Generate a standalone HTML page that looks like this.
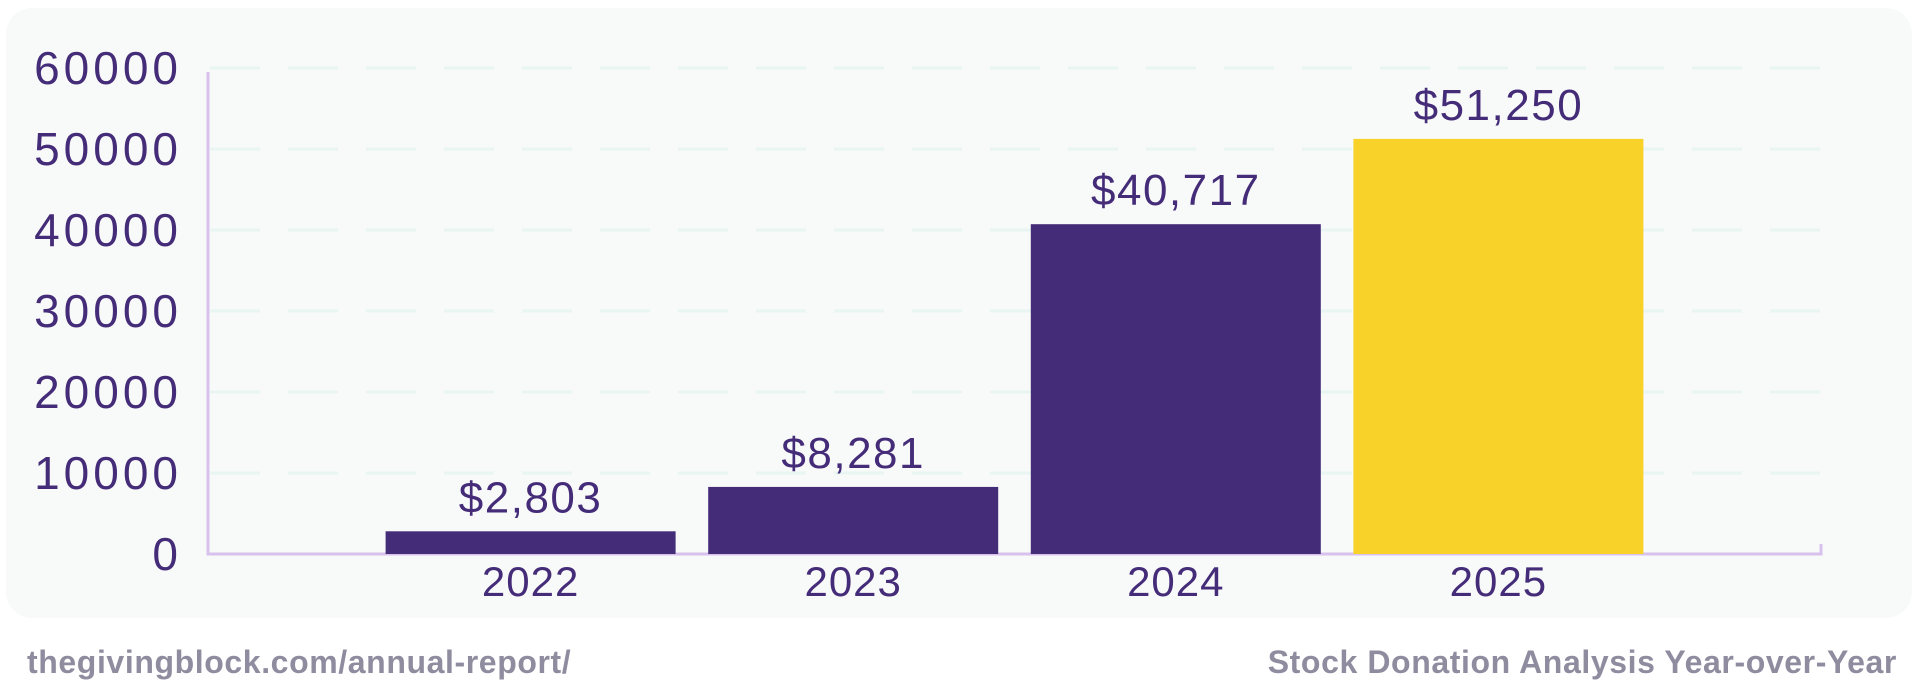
<!DOCTYPE html>
<html><head><meta charset="utf-8"><style>
html,body{margin:0;padding:0;background:#fff;width:1920px;height:688px;overflow:hidden;font-family:"Liberation Sans",sans-serif}
svg{display:block}
</style></head><body>
<svg width="1920" height="688">
<rect x="6" y="8" width="1906" height="610" rx="26" fill="#f8fafa"/>
<g id="grid"></g><g id="bars"></g><g id="labels"></g>
<text x="27" y="673" font-size="32" fill="#8e8c9e" font-weight="bold" letter-spacing="0.6">thegivingblock.com/annual-report/</text>
<text x="1897" y="673" font-size="32" fill="#8e8c9e" font-weight="bold" letter-spacing="0.6" text-anchor="end">Stock Donation Analysis Year-over-Year</text>
</svg>
<script>
const categories = ["2022","2023","2024","2025"];
const values = [2803, 8281, 40717, 51250];
const valueLabels = ["$2,803","$8,281","$40,717","$51,250"];
const yTicks = [0,10000,20000,30000,40000,50000,60000];
const NS="http://www.w3.org/2000/svg";
const x0=208,x1=1821,y0=554,yTop=68,yMax=60000,band=322.6,bw=290;
const ys=v=>y0-(v/yMax)*(y0-yTop);
const xc=i=>x0+(i+1)*band;
function mk(tag,attrs,parent,text){const e=document.createElementNS(NS,tag);for(const k in attrs)e.setAttribute(k,attrs[k]);if(text!==undefined)e.textContent=text;parent.appendChild(e);return e;}
const g=document.getElementById('grid'),b=document.getElementById('bars'),l=document.getElementById('labels');
yTicks.forEach(t=>{
  const y=ys(t);
  if(t>0){const ln=mk('line',{x1:x0+2,x2:x1,y1:y,y2:y,stroke:'#e8f5f3','stroke-width':3,'stroke-dasharray':'50 28'},g);
  
  }
  const tx=mk('text',{x:182,y:y+16,'font-size':46,fill:'#452c78','text-anchor':'end','letter-spacing':4},l,String(t));
  
  
});
const ax=mk('path',{d:`M${x0} ${yTop+4} V${y0} H${x1} V${y0-10}`,fill:'none',stroke:'#d8c1ec','stroke-width':3},g);


categories.forEach((c,i)=>{
  const cx=xc(i),top=ys(values[i]);
  const r=mk('rect',{x:cx-bw/2,y:top,width:bw,height:y0-top,fill:i===3?'#f9d229':'#452c78'},b);
  
  
  const v=mk('text',{x:cx,y:top-19,'font-size':44,fill:'#452c78','text-anchor':'middle','letter-spacing':1.5},l,valueLabels[i]);
  
  
  const xl=mk('text',{x:cx,y:596,'font-size':42,fill:'#452c78','text-anchor':'middle','letter-spacing':1},l,c);
  
  
});
</script>
</body></html>
